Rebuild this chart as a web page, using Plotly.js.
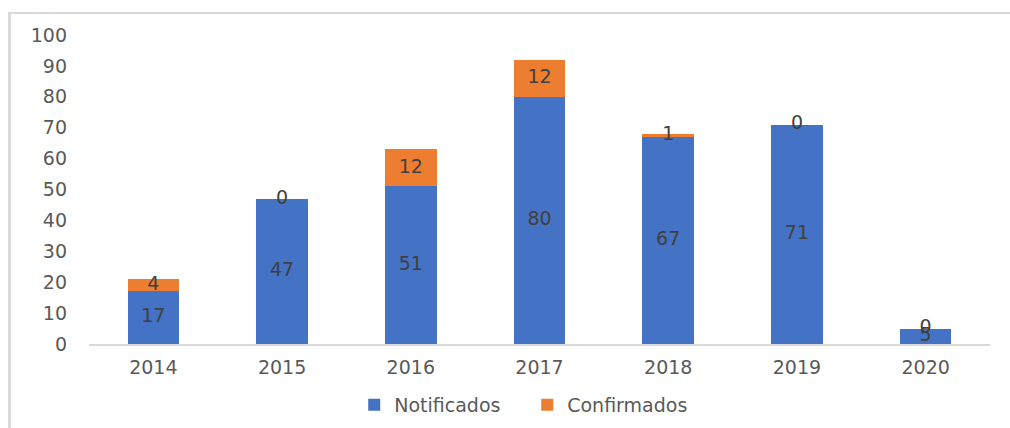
<!DOCTYPE html>
<html>
<head>
<meta charset="utf-8">
<script src="https://cdn.plot.ly/plotly-3.0.1.min.js"></script>
<style>
  html, body { margin: 0; padding: 0; background: #ffffff; overflow: hidden; }
  #frame { position: absolute; left: 8px; top: 12px; width: 1010px; height: 500px;
           border-left: 3px solid #d9d9d9; border-top: 2px solid #d9d9d9; box-sizing: border-box; }
  #chart { position: absolute; left: 0; top: 0; width: 1010px; height: 428px; }
</style>
</head>
<body>
<div id="frame"></div>
<div id="chart"></div>
<script>
const years = ['2014', '2015', '2016', '2017', '2018', '2019', '2020'];
const notificados = [17, 47, 51, 80, 67, 71, 5];
const confirmados = [4, 0, 12, 12, 1, 0, 0];
const yTicks = [0, 10, 20, 30, 40, 50, 60, 70, 80, 90, 100];

const blue = '#4472C4';
const orange = '#ED7D31';
const labelFont = { family: 'DejaVu Sans', size: 19, color: '#404040' };
const axisFont = { family: 'DejaVu Sans', size: 19, color: '#595959' };

const traces = [
  { type: 'bar', name: 'Notificados', x: years, y: notificados,
    marker: { color: blue }, hoverinfo: 'skip' },
  { type: 'bar', name: 'Confirmados', x: years, y: confirmados,
    marker: { color: orange }, hoverinfo: 'skip' },
  { type: 'scatter', mode: 'text', x: years, y: notificados.map(v => v / 2),
    text: notificados.map(String), textfont: labelFont, textposition: 'middle center',
    showlegend: false, hoverinfo: 'skip', cliponaxis: false },
  { type: 'scatter', mode: 'text', x: years, y: notificados.map((v, i) => v + confirmados[i] / 2),
    text: confirmados.map(String), textfont: labelFont, textposition: 'middle center',
    showlegend: false, hoverinfo: 'skip', cliponaxis: false }
];

const layout = {
  width: 1010, height: 428,
  margin: { l: 89, r: 20, t: 35, b: 84, autoexpand: false },
  paper_bgcolor: 'rgba(0,0,0,0)',
  plot_bgcolor: 'rgba(0,0,0,0)',
  barmode: 'stack',
  bargap: 0.6,
  font: axisFont,
  xaxis: {
    type: 'category', showgrid: false, zeroline: false, automargin: false,
    showline: true, linecolor: '#d9d9d9', linewidth: 2,
    ticks: '', ticklabelstandoff: 5, tickfont: axisFont
  },
  yaxis: {
    range: [0, 100], tickvals: yTicks, showgrid: false, zeroline: false, automargin: false,
    showline: false, ticks: '', ticklabelstandoff: 21, tickfont: axisFont
  },
  showlegend: true,
  legend: {
    orientation: 'h', x: 0.522, xanchor: 'center', xref: 'container',
    y: 0.054, yanchor: 'middle', yref: 'container',
    font: axisFont, entrywidth: 128,
    itemwidth: 30, traceorder: 'normal'
  }
};

Plotly.newPlot('chart', traces, layout, { staticPlot: true, displayModeBar: false });
</script>
</body>
</html>
